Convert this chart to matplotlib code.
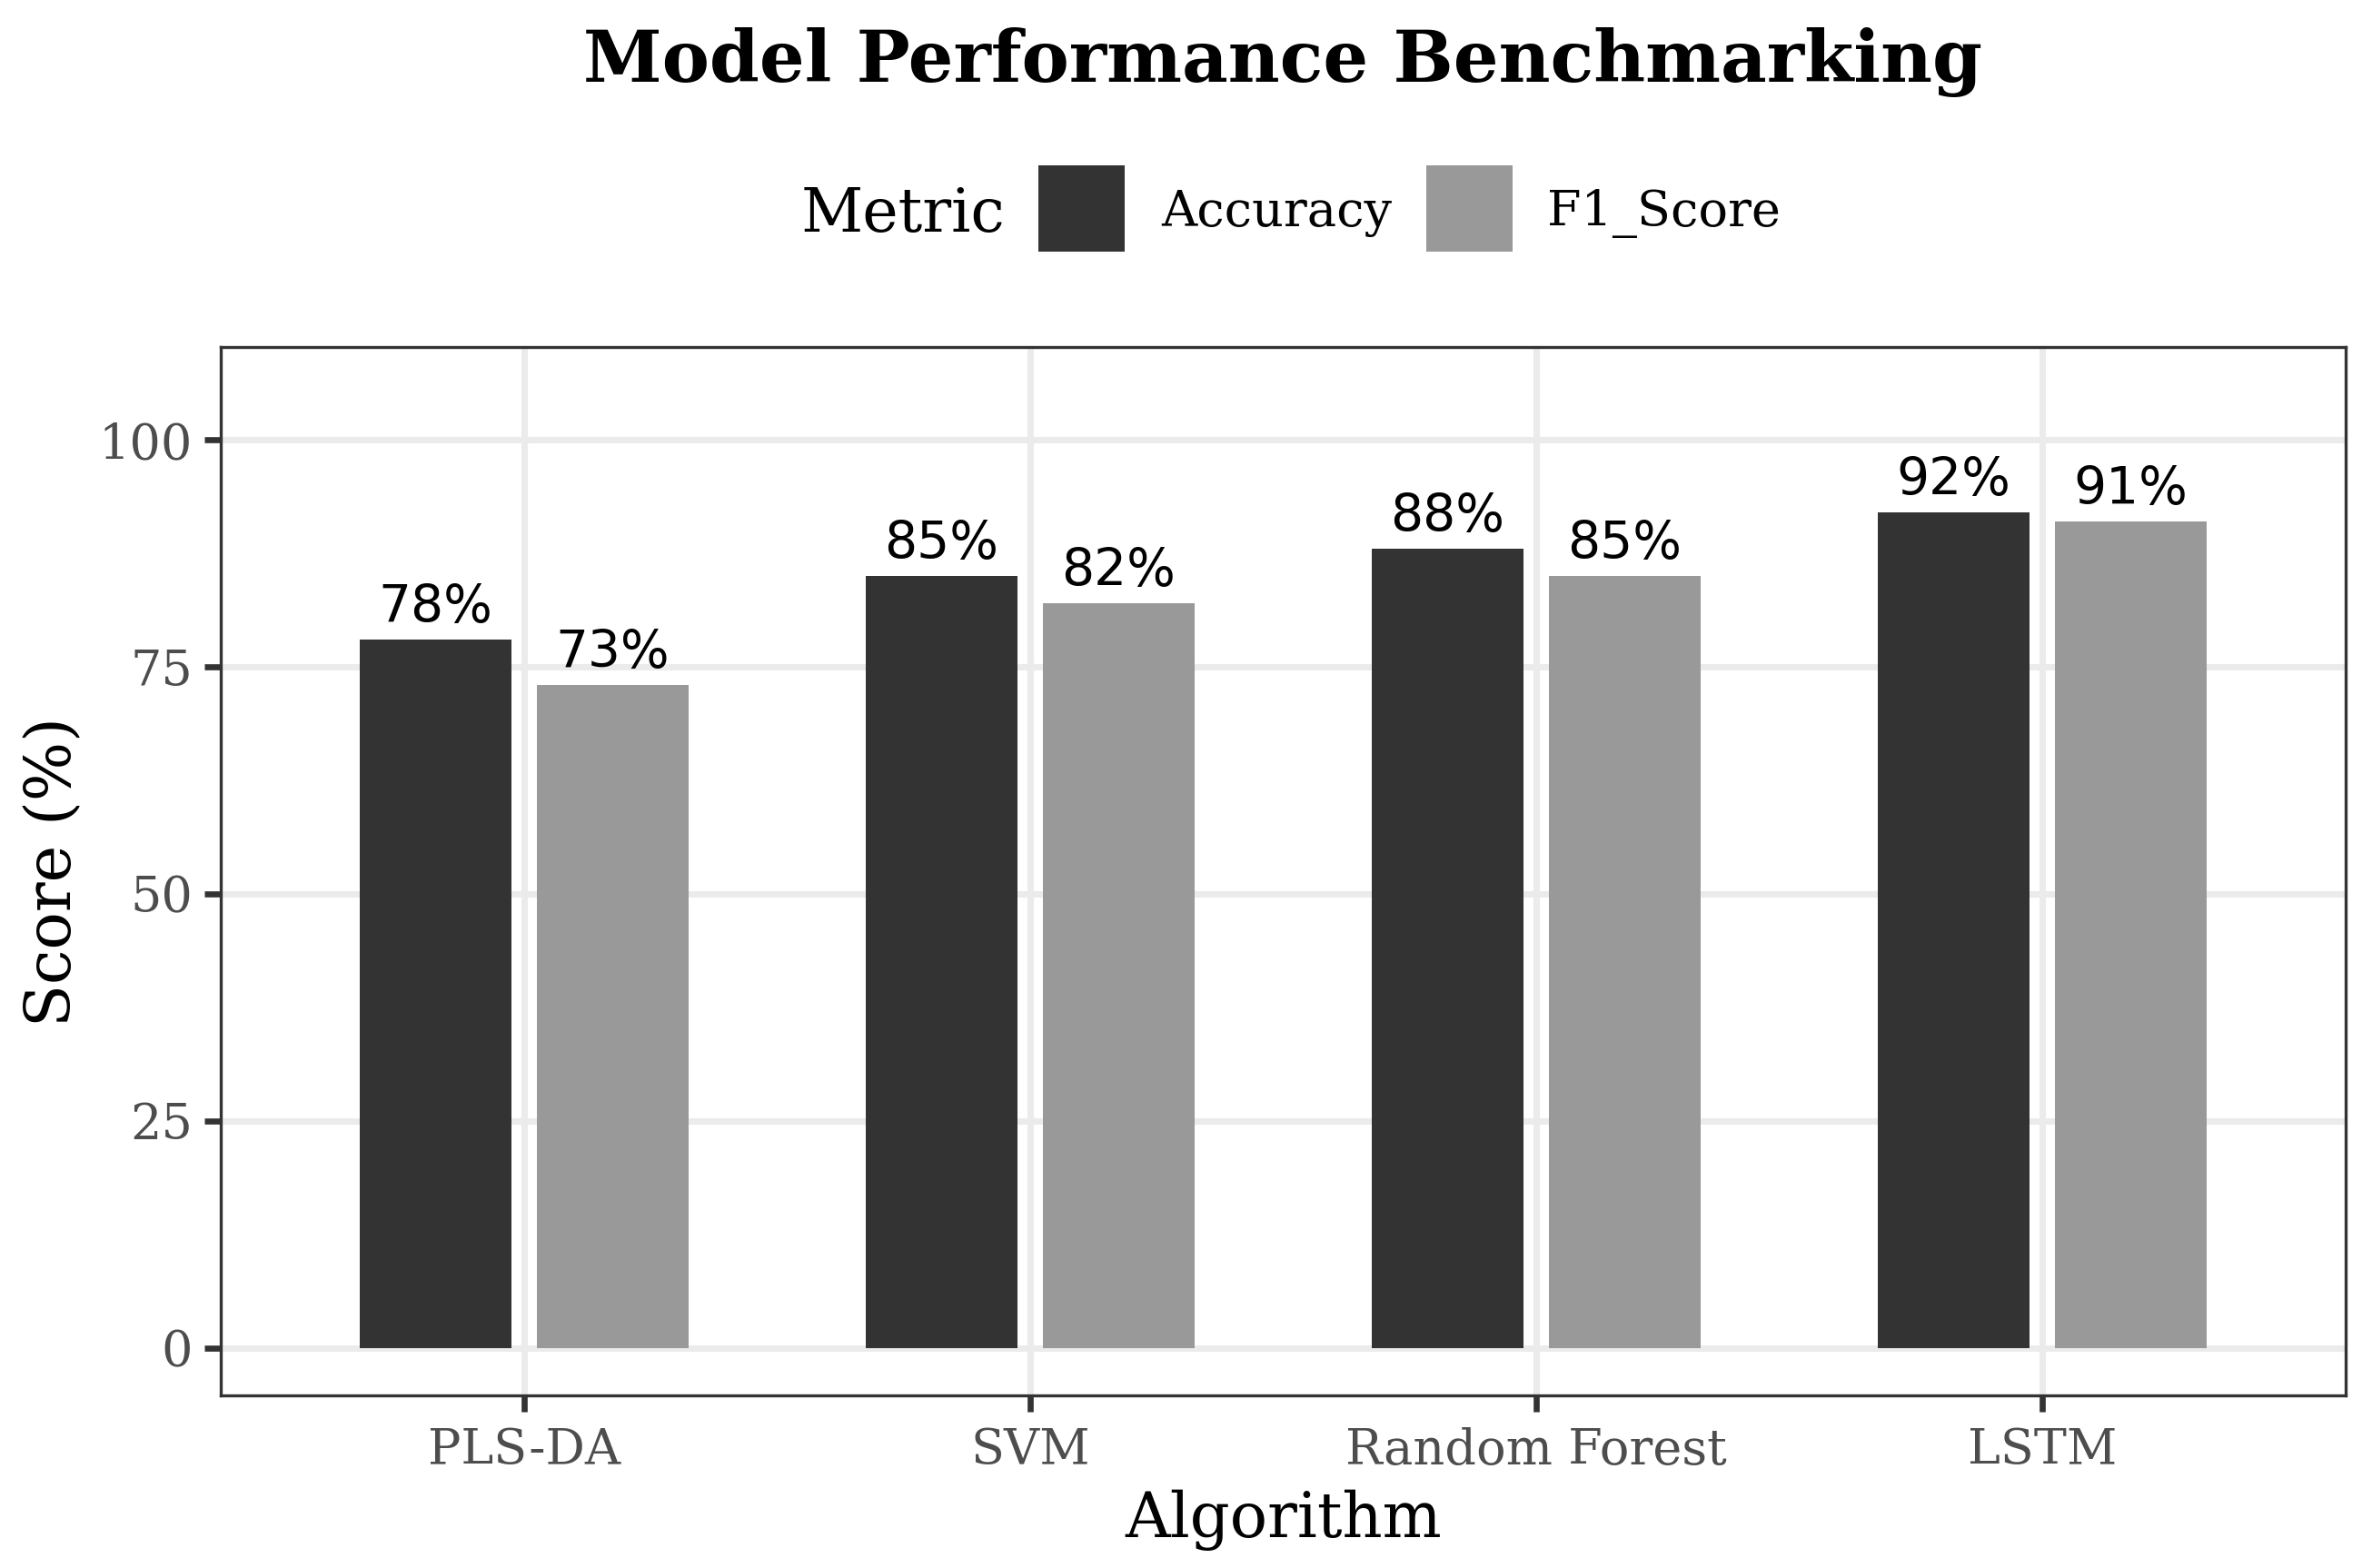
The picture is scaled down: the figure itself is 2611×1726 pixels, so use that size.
import numpy as np
import matplotlib
matplotlib.use("Agg")
import matplotlib.pyplot as plt
from matplotlib.patches import Rectangle

# ==========================================
# DATA
# ==========================================

algorithms = ["PLS-DA", "SVM", "Random Forest", "LSTM"]
metrics = ["Accuracy", "F1_Score"]
accuracy = [78, 85, 88, 92]
f1_score = [73, 82, 85, 91]
y_ticks = [0, 25, 50, 75, 100]

colors = ["#333333", "#999999"]

# ==========================================
# FIGURE
# ==========================================

W, H = 2611, 1726
DPI = 300

plt.rcParams["font.family"] = ["DejaVu Serif"]

fig = plt.figure(figsize=(W / DPI, H / DPI), dpi=DPI)


def fx(x):
    return x / W


def fy(y):
    return 1 - y / H


# panel in pixels: left 243, right 2582, top 382, bottom 1536
P_L, P_R, P_T, P_B = 243, 2582, 382, 1536
ax = fig.add_axes([fx(P_L), fy(P_B), fx(P_R) - fx(P_L), fy(P_T) - fy(P_B)])

x = np.arange(1, len(algorithms) + 1)
bar_w = 0.3
offset = 0.175

b1 = ax.bar(x - offset, accuracy, width=bar_w, color=colors[0], zorder=2)
b2 = ax.bar(x + offset, f1_score, width=bar_w, color=colors[1], zorder=2)

for bars in (b1, b2):
    ax.bar_label(
        bars,
        labels=[f"{v:.0f}%" for v in bars.datavalues],
        padding=1.8,
        fontsize=13.6,
        family="DejaVu Sans",
        color="black",
    )

ax.set_xlim(0.4, 4.6)
ax.set_ylim(-5.25, 110.25)
ax.set_xticks(x)
ax.set_xticklabels(algorithms)
ax.set_yticks(y_ticks)

ax.grid(True, color="#EBEBEB", linewidth=1.7, zorder=0)
ax.set_axisbelow(True)

for s in ax.spines.values():
    s.set_color("#333333")
    s.set_linewidth(0.8)

ax.tick_params(
    axis="both",
    colors="#333333",
    labelcolor="#4D4D4D",
    labelsize=13,
    width=1.6,
    length=4.4,
)
ax.tick_params(axis="x", pad=4)
ax.tick_params(axis="y", pad=3)

ax.set_xlabel("Algorithm", fontsize=16.5)
ax.set_ylabel("Score (%)", fontsize=16.5)
ax.xaxis.set_label_coords(0.5, (P_B - 1640) / (P_B - P_T))
ax.yaxis.set_label_coords((92 - P_L) / (P_R - P_L), 0.5)

# ==========================================
# TITLE
# ==========================================

fig.text(
    (fx(P_L) + fx(P_R)) / 2,
    fy(90),
    "Model Performance Benchmarking",
    ha="center",
    va="baseline",
    fontsize=18.8,
    fontweight="bold",
)

# ==========================================
# LEGEND (horizontal, title on the left)
# ==========================================

leg_cy = 229
key = 95

fig.text(fx(882), fy(leg_cy), "Metric", ha="left", va="center_baseline", fontsize=16)

key_x = [1143, 1570]
lab_x = [1278, 1703]
for i, m in enumerate(metrics):
    fig.add_artist(
        Rectangle(
            (fx(key_x[i]), fy(leg_cy + key / 2)),
            key / W,
            key / H,
            transform=fig.transFigure,
            facecolor=colors[i],
            edgecolor="none",
        )
    )
    fig.text(fx(lab_x[i]), fy(leg_cy), m, ha="left", va="center_baseline", fontsize=13)

plt.savefig("out.png", dpi=DPI)
